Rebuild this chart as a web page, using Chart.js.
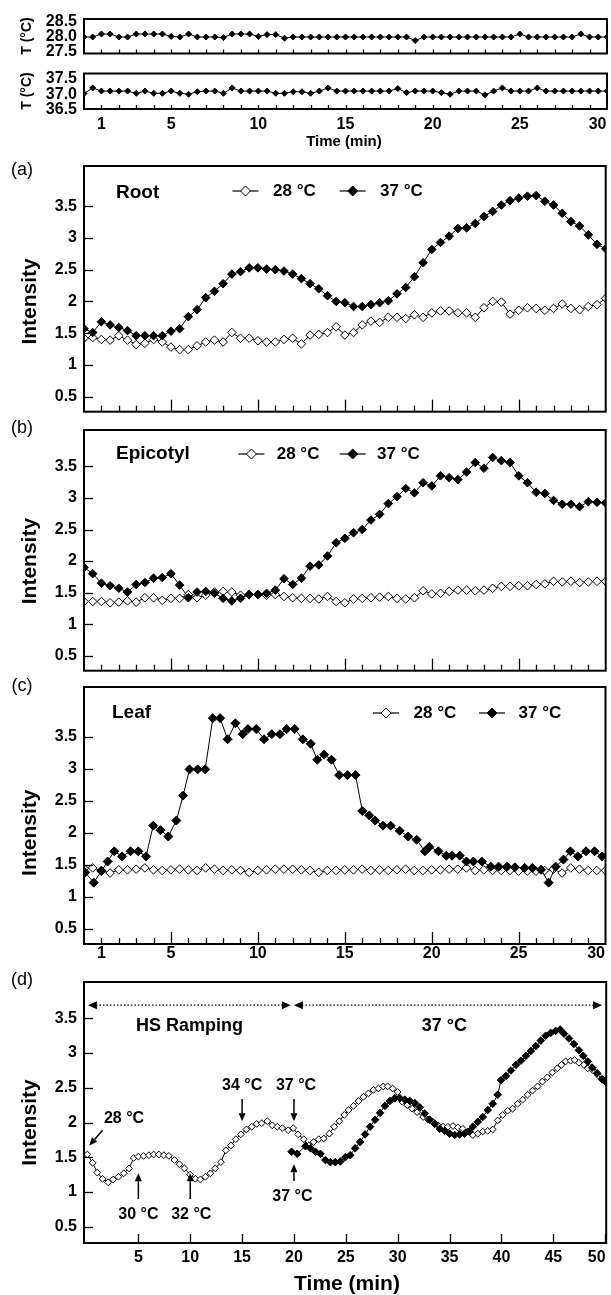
<!DOCTYPE html>
<html><head><meta charset="utf-8">
<script src="https://cdn.jsdelivr.net/npm/chart.js@4.4.0/dist/chart.umd.min.js"></script>
<style>
html,body{margin:0;padding:0;background:#fff;}
#wrap{position:relative;width:611px;height:1295px;overflow:hidden;background:#fff;}
canvas{position:absolute;left:0;}
</style></head><body><div id="wrap"></div>
<script>
const FONT = "'Liberation Sans', Arial, Helvetica, sans-serif";

// ---------- DATA ----------
const minutes = [0,0.5,1,1.5,2,2.5,3,3.5,4,4.5,5,5.5,6,6.5,7,7.5,8,8.5,9,9.5,10,10.5,11,11.5,12,12.5,13,13.5,14,14.5,15,15.5,16,16.5,17,17.5,18,18.5,19,19.5,20,20.5,21,21.5,22,22.5,23,23.5,24,24.5,25,25.5,26,26.5,27,27.5,28,28.5,29,29.5,30];

const temp28 = [28.0,28.0,28.1,28.1,28.0,28.0,28.1,28.1,28.1,28.1,
 28.02,28.0,28.1,28.0,28.0,28.0,27.98,28.1,28.1,28.1,
 28.02,28.08,28.08,27.96,28.0,28.0,28.0,28.0,28.0,28.0,
 28.0,28.0,28.0,28.0,28.0,28.0,28.0,28.0,27.88,28.0,
 28.0,28.0,28.0,28.0,28.0,28.0,28.0,28.0,28.0,28.0,
 28.1,28.0,28.0,28.0,28.0,28.0,28.0,28.1,28.0,28.0,28.0];

const temp37 = [37.02,37.2,37.1,37.1,37.1,37.1,37.03,37.1,37.03,37.03,
 37.1,37.03,37.0,37.08,37.1,37.1,37.03,37.2,37.1,37.1,
 37.1,37.1,37.03,37.03,37.08,37.08,37.03,37.1,37.2,37.1,
 37.1,37.1,37.1,37.1,37.1,37.1,37.18,37.05,37.1,37.1,
 37.1,37.05,37.0,37.1,37.1,37.1,36.98,37.1,37.2,37.1,
 37.1,37.1,37.2,37.1,37.1,37.1,37.1,37.1,37.1,37.1,37.1];

const root28 = [1.42,1.43,1.40,1.39,1.46,1.39,1.32,1.34,1.40,1.36,
 1.28,1.24,1.24,1.30,1.36,1.39,1.36,1.51,1.42,1.42,
 1.38,1.36,1.36,1.40,1.42,1.33,1.47,1.48,1.51,1.60,
 1.47,1.51,1.63,1.69,1.67,1.75,1.75,1.73,1.79,1.75,
 1.82,1.85,1.85,1.82,1.82,1.75,1.90,2.00,1.99,1.80,
 1.86,1.90,1.89,1.86,1.89,1.96,1.89,1.87,1.92,1.95,2.05];

const root37 = [1.57,1.51,1.68,1.63,1.59,1.54,1.46,1.46,1.46,1.46,
 1.53,1.57,1.76,1.87,2.06,2.16,2.28,2.43,2.47,2.53,
 2.53,2.51,2.50,2.48,2.43,2.36,2.28,2.20,2.09,2.00,
 1.98,1.92,1.92,1.95,1.98,2.01,2.12,2.22,2.39,2.61,
 2.82,2.93,3.03,3.15,3.16,3.23,3.34,3.42,3.52,3.59,
 3.63,3.66,3.67,3.58,3.52,3.39,3.26,3.19,3.05,2.90,2.83];

const epicotyl28 = [1.36,1.36,1.36,1.34,1.35,1.37,1.35,1.42,1.42,1.38,
 1.41,1.41,1.47,1.42,1.46,1.51,1.52,1.51,1.46,1.47,
 1.47,1.46,1.47,1.44,1.42,1.41,1.41,1.40,1.44,1.36,
 1.34,1.40,1.41,1.42,1.43,1.44,1.41,1.40,1.42,1.53,
 1.48,1.49,1.52,1.54,1.54,1.53,1.54,1.57,1.60,1.60,
 1.61,1.61,1.63,1.64,1.68,1.67,1.68,1.66,1.67,1.68,1.68];

const epicotyl37 = [1.90,1.80,1.65,1.61,1.57,1.51,1.63,1.66,1.73,1.74,
 1.80,1.62,1.42,1.51,1.52,1.49,1.41,1.37,1.41,1.47,
 1.47,1.49,1.54,1.72,1.63,1.73,1.92,1.94,2.08,2.29,
 2.36,2.45,2.50,2.65,2.74,2.91,3.02,3.15,3.08,3.24,
 3.19,3.35,3.32,3.29,3.41,3.56,3.47,3.64,3.59,3.56,
 3.35,3.24,3.09,3.07,2.96,2.90,2.90,2.86,2.94,2.93,2.92];

const leaf28 = [1.44,1.45,1.41,1.37,1.42,1.42,1.43,1.45,1.42,1.41,
 1.42,1.43,1.42,1.41,1.45,1.43,1.41,1.42,1.41,1.38,
 1.41,1.42,1.43,1.43,1.43,1.42,1.41,1.38,1.41,1.41,
 1.42,1.42,1.43,1.41,1.42,1.41,1.42,1.43,1.41,1.41,
 1.42,1.42,1.43,1.43,1.45,1.41,1.42,1.41,1.41,1.41,
 1.40,1.40,1.40,1.41,1.43,1.37,1.45,1.43,1.41,1.41,1.41];

const leaf37Times = [0.07,0.56,1.0,1.36,1.74,2.19,2.68,3.12,3.57,3.98,
 4.40,4.85,5.31,5.70,6.07,6.54,6.97,7.41,7.83,8.26,
 8.71,9.13,9.43,9.91,10.36,10.80,11.27,11.66,12.12,12.59,
 13.04,13.42,13.81,14.24,14.68,15.15,15.62,16.01,16.41,16.75,
 17.20,17.64,18.16,18.65,19.14,19.61,19.87,20.39,20.84,21.17,
 21.62,22.00,22.40,22.89,23.40,23.85,24.34,24.79,25.35,25.79,
 26.29,26.73,27.13,27.58,27.98,28.41,28.88,29.37,29.81];
const leaf37 = [1.38,1.22,1.40,1.55,1.71,1.63,1.71,1.71,1.63,2.11,
 2.04,1.94,2.19,2.58,2.99,2.99,2.99,3.79,3.79,3.46,
 3.71,3.54,3.62,3.62,3.46,3.54,3.54,3.62,3.62,3.46,
 3.39,3.14,3.22,3.14,2.90,2.90,2.90,2.34,2.27,2.19,
 2.11,2.11,2.03,1.94,1.89,1.71,1.78,1.71,1.64,1.64,
 1.64,1.55,1.55,1.55,1.47,1.47,1.47,1.46,1.45,1.45,
 1.42,1.22,1.47,1.58,1.71,1.63,1.71,1.71,1.63];

const rampTimes = [0.08,0.59,1.04,1.55,2.09,2.57,3.08,3.60,4.10,4.55,
 5.00,5.51,6.02,6.47,6.98,7.46,7.94,8.48,8.96,9.44,
 9.99,10.50,10.98,11.46,11.94,12.42,12.96,13.44,13.92,14.40,
 14.88,15.42,15.93,16.41,16.89,17.43,17.91,18.39,18.87,19.44,
 19.92,20.40,20.95,21.43,21.90,22.39,22.87,23.41,23.89,24.37,
 24.85,25.26,25.74,26.22,26.70,27.18,27.66,28.14,28.61,29.03,
 29.51,29.99,30.44,30.92,31.39,31.87,32.45,32.93,33.41,33.89,
 34.37,34.85,35.33,35.80,36.28,36.76,37.24,37.72,38.20,38.68,
 39.16,39.64,40.12,40.60,41.08,41.56,42.04,42.52,43.00,43.48,
 43.95,44.43,44.91,45.39,45.78,46.19,46.67,47.06,47.47,47.95,
 48.33,48.84,49.32,49.80];
const rampValues = [1.54,1.42,1.28,1.19,1.14,1.18,1.22,1.27,1.34,1.49,
 1.51,1.52,1.53,1.54,1.54,1.53,1.52,1.46,1.40,1.34,
 1.25,1.19,1.18,1.22,1.27,1.34,1.43,1.60,1.67,1.76,
 1.83,1.90,1.94,1.98,1.99,2.02,1.96,1.94,1.92,1.89,
 1.92,1.83,1.76,1.67,1.72,1.76,1.77,1.84,1.94,2.02,
 2.11,2.18,2.24,2.31,2.37,2.42,2.47,2.49,2.52,2.52,
 2.49,2.44,2.30,2.25,2.20,2.15,2.08,2.04,2.01,1.96,
 1.94,1.94,1.95,1.93,1.91,1.87,1.82,1.84,1.87,1.88,
 1.90,2.03,2.11,2.17,2.20,2.27,2.33,2.40,2.46,2.52,
 2.59,2.65,2.72,2.78,2.83,2.88,2.89,2.90,2.86,2.83,
 2.78,2.75,2.68,2.62];

const hotTimes = [19.77,20.31,21.11,21.59,22.07,22.55,23.03,23.51,23.99,24.47,
 24.95,25.42,25.90,26.38,26.86,27.34,27.82,28.30,28.77,29.25,
 29.73,30.21,30.69,31.17,31.65,32.13,32.61,33.09,33.57,34.05,
 34.53,35.01,35.49,35.97,36.44,36.92,37.24,37.72,38.20,38.68,
 39.16,39.64,39.96,40.44,40.92,41.40,41.88,42.36,42.84,43.32,
 43.80,44.27,44.75,45.23,45.65,46.03,46.51,46.99,47.47,47.89,
 48.33,48.75,49.23,49.71,50.03];
const hotValues = [1.58,1.55,1.66,1.63,1.58,1.55,1.46,1.43,1.43,1.44,
 1.50,1.53,1.63,1.72,1.83,1.94,2.04,2.14,2.24,2.31,
 2.35,2.35,2.33,2.31,2.28,2.22,2.13,2.04,1.98,1.91,
 1.88,1.84,1.82,1.83,1.84,1.87,1.94,2.01,2.08,2.18,
 2.27,2.40,2.61,2.67,2.75,2.83,2.89,2.96,3.03,3.10,
 3.18,3.25,3.29,3.32,3.34,3.28,3.21,3.13,3.04,2.96,
 2.88,2.79,2.71,2.62,2.59];

// tick definitions
const timeLabels30 = [1,5,10,15,20,25,30];
const timeLabels50 = [5,10,15,20,25,30,35,40,45,50];
const minuteMarks = [1,2,3,4,5,6,7,8,9,10,11,12,13,14,15,16,17,18,19,20,21,22,23,24,25,26,27,28,29];
const majorMarks = [5,10,15,20,25];
const intensityTicks = [0.5,1,1.5,2,2.5,3,3.5];
const temp28Ticks = [27.5,28.0,28.5];
const temp37Ticks = [36.5,37.0,37.5];
const legendLabels = ['28 °C','37 °C'];

// ---------- HELPERS ----------
const wrap = document.getElementById('wrap');
function txt(ctx, s, x, y, size, bold, align, base) {
  ctx.font = (bold ? 'bold ' : '') + size + 'px ' + FONT;
  ctx.textAlign = align || 'left';
  ctx.textBaseline = base || 'middle';
  ctx.fillStyle = '#000';
  ctx.fillText(s, x, y);
}
function vtxt(ctx, s, x, y, size) {
  ctx.save(); ctx.translate(x, y); ctx.rotate(-Math.PI / 2);
  txt(ctx, s, 0, 0, size, true, 'center', 'middle');
  ctx.restore();
}
function diamond(ctx, cx, cy, r, filled) {
  ctx.beginPath();
  ctx.moveTo(cx, cy - r); ctx.lineTo(cx + r, cy); ctx.lineTo(cx, cy + r); ctx.lineTo(cx - r, cy); ctx.closePath();
  ctx.fillStyle = filled ? '#000' : '#fff'; ctx.fill();
  ctx.lineWidth = 1; ctx.strokeStyle = '#000'; ctx.stroke();
}
function legend(ctx, c1, t1, c2, t2, y) {
  [[c1, t1, false, legendLabels[0]], [c2, t2, true, legendLabels[1]]].forEach(([c, t, f, s]) => {
    ctx.lineWidth = 1.2; ctx.strokeStyle = '#000';
    ctx.beginPath(); ctx.moveTo(c - 13, y); ctx.lineTo(c + 13, y); ctx.stroke();
    diamond(ctx, c, y, 5, f);
    txt(ctx, s, t, y, 17, true, 'left');
  });
}
function arrow(ctx, x1, y1, x2, y2) {
  const hl = 8, hw = 3.5;
  const a = Math.atan2(y2 - y1, x2 - x1);
  const bx = x2 - hl * Math.cos(a), by = y2 - hl * Math.sin(a);
  ctx.lineWidth = 1.5; ctx.strokeStyle = '#000'; ctx.fillStyle = '#000';
  ctx.beginPath(); ctx.moveTo(x1, y1); ctx.lineTo(bx, by); ctx.stroke();
  ctx.beginPath(); ctx.moveTo(x2, y2);
  ctx.lineTo(bx + hw * Math.sin(a), by - hw * Math.cos(a));
  ctx.lineTo(bx - hw * Math.sin(a), by + hw * Math.cos(a));
  ctx.closePath(); ctx.fill();
}
function dotted(ctx, x1, x2, y) {
  ctx.save();
  ctx.setLineDash([1.5, 2]); ctx.lineWidth = 1.3; ctx.strokeStyle = '#000';
  ctx.beginPath(); ctx.moveTo(x1 + 8, y); ctx.lineTo(x2 - 8, y); ctx.stroke();
  ctx.restore();
  ctx.fillStyle = '#000';
  ctx.beginPath(); ctx.moveTo(x1, y); ctx.lineTo(x1 + 9, y - 4); ctx.lineTo(x1 + 9, y + 4); ctx.closePath(); ctx.fill();
  ctx.beginPath(); ctx.moveTo(x2, y); ctx.lineTo(x2 - 9, y - 4); ctx.lineTo(x2 - 9, y + 4); ctx.closePath(); ctx.fill();
}
function series(times, vals, filled, r) {
  return {
    data: times.map((t, i) => ({ x: t, y: vals[i] })),
    borderColor: '#000', borderWidth: 1, tension: 0, fill: false,
    pointStyle: 'rectRot', pointRadius: r, pointHoverRadius: r,
    pointBackgroundColor: filled ? '#000' : '#fff',
    pointBorderColor: '#000', pointBorderWidth: 1
  };
}
function intensityTitle(ctx, ys) {
  const cy = (ys.getPixelForValue(0.5) + ys.getPixelForValue(3.5)) / 2;
  vtxt(ctx, 'Intensity', 30, cy, 21);
}

function makePanel(p) {
  const cv = document.createElement('canvas');
  cv.width = 611; cv.height = p.h; cv.style.top = p.top + 'px';
  wrap.appendChild(cv);
  const L = y => y - p.top;
  const xAxisH = p.h - (p.frameBottom - p.top);
  const tickFont = { family: FONT, size: 16, weight: 'bold' };
  const plugin = {
    id: 'deco',
    afterDatasetsDraw(chart) {
      const ctx = chart.ctx, a = chart.chartArea, xs = chart.scales.x, ys = chart.scales.y;
      ctx.save();
      ctx.strokeStyle = '#000'; ctx.lineWidth = 1.3;
      p.xMarks.forEach(m => {
        const px = Math.round(xs.getPixelForValue(m[0])) + 0.5;
        ctx.beginPath(); ctx.moveTo(px, a.bottom); ctx.lineTo(px, a.bottom - m[1]); ctx.stroke();
      });
      (p.yMarks || []).forEach(v => {
        const py = Math.round(ys.getPixelForValue(v)) + 0.5;
        ctx.beginPath(); ctx.moveTo(a.left, py); ctx.lineTo(a.left + 9, py); ctx.stroke();
      });
      ctx.lineWidth = 2;
      ctx.strokeRect(a.left, a.top, a.right - a.left, a.bottom - a.top);
      p.draw(ctx, chart, xs, ys, L);
      ctx.restore();
    }
  };
  // last label kept inside the frame, as in the original figure
  const labelPos = (p.xLabels || []).map((v, i, arr) =>
    i === arr.length - 1 ? p.xMax - 9.5 * (p.xMax - p.xMin) / 525 : v);
  return new Chart(cv, {
    type: 'line',
    data: { datasets: p.datasets },
    options: {
      responsive: false, animation: false, devicePixelRatio: 1, events: [],
      layout: { padding: { top: p.frameTop - p.top, right: 2, left: 0, bottom: 0 } },
      plugins: { legend: { display: false }, tooltip: { enabled: false } },
      scales: {
        x: {
          type: 'linear', min: p.xMin, max: p.xMax,
          grid: { display: false, drawTicks: false }, border: { display: false },
          ticks: { display: !!p.xLabels, autoSkip: false, maxRotation: 0, minRotation: 0,
                   padding: p.xPad || 0, color: '#000', font: tickFont,
                   callback: (v, i) => String(p.xLabels[i]) },
          afterBuildTicks: s => { s.ticks = labelPos.map(v => ({ value: v })); },
          afterFit: s => { s.height = xAxisH; s.paddingLeft = 0; s.paddingRight = 0; }
        },
        y: {
          type: 'linear', min: p.yMin, max: p.yMax,
          grid: { display: false, drawTicks: false }, border: { display: false },
          ticks: { padding: 7, color: '#000', font: tickFont, autoSkip: false,
                   callback: p.yFmt || (v => String(v)) },
          afterBuildTicks: s => { s.ticks = p.yTicks.map(v => ({ value: v })); },
          afterFit: s => { s.width = 84; s.paddingTop = 0; s.paddingBottom = 0; }
        }
      }
    },
    plugins: [plugin]
  });
}

const marks30 = minuteMarks.map(m => [m, majorMarks.includes(m) ? 12 : 6]);
const marksT = minuteMarks.map(m => [m, 4]);
const marks50 = timeLabels50.map(m => [m, 9]);

// T panel 28
makePanel({
  top: 0, h: 62, frameTop: 19, frameBottom: 53.5, xMin: 0, xMax: 30, yMin: 27.45, yMax: 28.6,
  yTicks: temp28Ticks, yFmt: v => v.toFixed(1), xMarks: marksT,
  datasets: [series(minutes, temp28, true, 3)],
  draw(ctx, c, xs, ys, L) { ctx.save(); ctx.translate(27, L(36)); ctx.rotate(-Math.PI/2); txt(ctx, 'T (°C)', 0, 0, 14, true, 'center'); ctx.restore(); }
});
// T panel 37
makePanel({
  top: 62, h: 93, frameTop: 73.5, frameBottom: 109, xMin: 0, xMax: 30, yMin: 36.53, yMax: 37.66,
  yTicks: temp37Ticks, yFmt: v => v.toFixed(1), xMarks: marksT, xLabels: timeLabels30, xPad: 6,
  datasets: [series(minutes, temp37, true, 3)],
  draw(ctx, c, xs, ys, L) {
    ctx.save(); ctx.translate(27, L(91)); ctx.rotate(-Math.PI/2); txt(ctx, 'T (°C)', 0, 0, 14, true, 'center'); ctx.restore();
    txt(ctx, 'Time (min)', 344, L(142), 15, true, 'center');
  }
});
// (a) Root
makePanel({
  top: 155, h: 262, frameTop: 166, frameBottom: 414, xMin: 0, xMax: 30, yMin: 0.261, yMax: 4.136,
  yTicks: intensityTicks, yMarks: intensityTicks, xMarks: marks30,
  datasets: [series(minutes, root37, true, 4.3), series(minutes, root28, false, 4.3)],
  draw(ctx, c, xs, ys, L) {
    txt(ctx, '(a)', 22, L(170), 18, false, 'center');
    txt(ctx, 'Root', 116, L(193), 19, true, 'left');
    legend(ctx, 245.5, 273, 352.7, 380, L(191));
    intensityTitle(ctx, ys);
  }
});
// (b) Epicotyl
makePanel({
  top: 417, h: 259, frameTop: 430, frameBottom: 673.3, xMin: 0, xMax: 30, yMin: 0.265, yMax: 4.075,
  yTicks: intensityTicks, yMarks: intensityTicks, xMarks: marks30,
  datasets: [series(minutes, epicotyl37, true, 4.3), series(minutes, epicotyl28, false, 4.3)],
  draw(ctx, c, xs, ys, L) {
    txt(ctx, '(b)', 22, L(428), 18, false, 'center');
    txt(ctx, 'Epicotyl', 116, L(454), 19, true, 'left');
    legend(ctx, 251.4, 276.7, 352.7, 377, L(454));
    intensityTitle(ctx, ys);
  }
});
// (c) Leaf
makePanel({
  top: 676, h: 289, frameTop: 687, frameBottom: 944, xMin: 0, xMax: 30, yMin: 0.261, yMax: 4.277,
  yTicks: intensityTicks, yMarks: intensityTicks, xMarks: marks30, xLabels: timeLabels30, xPad: 0,
  datasets: [series(leaf37Times, leaf37, true, 4.5), series(minutes, leaf28, false, 4.3)],
  draw(ctx, c, xs, ys, L) {
    txt(ctx, '(c)', 22, L(686), 18, false, 'center');
    txt(ctx, 'Leaf', 112, L(713), 19, true, 'left');
    legend(ctx, 386, 413.5, 492, 518.5, L(713));
    intensityTitle(ctx, ys);
  }
});
// (d) ramping
makePanel({
  top: 965, h: 330, frameTop: 982, frameBottom: 1243, xMin: -0.24, xMax: 50.1, yMin: 0.266, yMax: 4.023,
  yTicks: intensityTicks, yMarks: intensityTicks, xMarks: marks50, xLabels: timeLabels50, xPad: 5,
  datasets: [series(hotTimes, hotValues, true, 3.8), series(rampTimes, rampValues, false, 3.4)],
  draw(ctx, c, xs, ys, L) {
    const X = v => xs.getPixelForValue(v), Y = v => ys.getPixelForValue(v);
    txt(ctx, '(d)', 22, L(980), 18, false, 'center');
    intensityTitle(ctx, ys);
    dotted(ctx, X(0.14), X(19.7), Y(3.69));
    dotted(ctx, X(19.99), X(49.7), Y(3.69));
    txt(ctx, 'HS Ramping', X(9.92), Y(3.39), 18, true, 'center');
    txt(ctx, '37 °C', X(34.5), Y(3.39), 18, true, 'center');
    txt(ctx, '28 °C', X(1.68), Y(2.05), 16, true, 'left');
    arrow(ctx, X(1.55), Y(1.89), X(0.27), Y(1.67));
    txt(ctx, '34 °C', X(15), Y(2.525), 16, true, 'center');
    arrow(ctx, X(15), Y(2.34), X(15), Y(2.02));
    txt(ctx, '37 °C', X(20.2), Y(2.525), 16, true, 'center');
    arrow(ctx, X(20), Y(2.34), X(20), Y(2.02));
    txt(ctx, '30 °C', X(5), Y(0.67), 16, true, 'center');
    arrow(ctx, X(5), Y(0.9), X(5), Y(1.27));
    txt(ctx, '32 °C', X(10.1), Y(0.67), 16, true, 'center');
    arrow(ctx, X(10), Y(0.9), X(10), Y(1.27));
    txt(ctx, '37 °C', X(19.85), Y(0.93), 16, true, 'center');
    arrow(ctx, X(20), Y(1.16), X(20), Y(1.4));
    txt(ctx, 'Time (min)', 347, L(1284), 21, true, 'center');
  }
});
</script></body></html>
